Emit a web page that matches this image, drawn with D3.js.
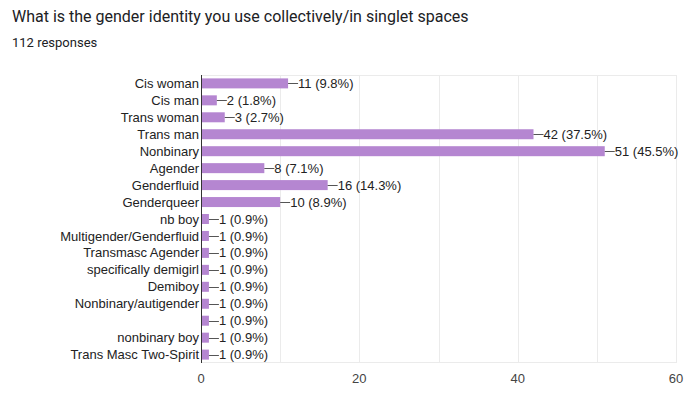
<!DOCTYPE html>
<html>
<head>
<meta charset="utf-8">
<script src="https://cdn.jsdelivr.net/npm/d3@7"></script>
<style>
  html, body { margin: 0; padding: 0; background: #fff; }
  svg { display: block; }
</style>
</head>
<body>
<svg id="chart" width="698" height="399"></svg>
<script>
const categories = [
  "Cis woman", "Cis man", "Trans woman", "Trans man", "Nonbinary", "Agender",
  "Genderfluid", "Genderqueer", "nb boy", "Multigender/Genderfluid",
  "Transmasc Agender", "specifically demigirl", "Demiboy",
  "Nonbinary/autigender", "", "nonbinary boy", "Trans Masc Two-Spirit"
];
const counts = [11, 2, 3, 42, 51, 8, 16, 10, 1, 1, 1, 1, 1, 1, 1, 1, 1];
const percents = ["9.8%", "1.8%", "2.7%", "37.5%", "45.5%", "7.1%", "14.3%", "8.9%",
  "0.9%", "0.9%", "0.9%", "0.9%", "0.9%", "0.9%", "0.9%", "0.9%", "0.9%"];
const xTicks = [0, 20, 40, 60];
const gridTicks = [10, 20, 30, 40, 50, 60];
const title = "What is the gender identity you use collectively/in singlet spaces";
const subtitle = "112 responses";

(function () {
const svg = d3.select("#chart");
const pLeft = 201, pRight = 676, pTop = 75, pBottom = 363;

svg.append("text").attr("x", 12).attr("y", 22)
  .attr("font-family", "Roboto, 'Open Sans', sans-serif").attr("font-size", 16)
  .attr("fill", "#202124").text(title);
svg.append("text").attr("x", 12).attr("y", 47)
  .attr("font-family", "Roboto, sans-serif").attr("font-size", 13)
  .attr("fill", "#202124").text(subtitle);

const x = d3.scaleLinear().domain([0, 60]).range([pLeft, pRight]);
const y = d3.scaleBand().domain(d3.range(categories.length)).range([pTop, pBottom])
  .paddingInner(0.41).paddingOuter(0.2);

// gridlines
svg.append("g").selectAll("line").data(gridTicks).join("line")
  .attr("x1", d => Math.round(x(d)) + 0.5).attr("x2", d => Math.round(x(d)) + 0.5)
  .attr("y1", pTop).attr("y2", pBottom)
  .attr("stroke", "#ebebeb").attr("stroke-width", 1);
svg.append("line").attr("x1", pLeft).attr("x2", pRight).attr("y1", pTop + 0.5).attr("y2", pTop + 0.5)
  .attr("stroke", "#ebebeb");
svg.append("line").attr("x1", pLeft).attr("x2", pRight).attr("y1", pBottom - 0.5).attr("y2", pBottom - 0.5)
  .attr("stroke", "#ebebeb");

const font = "'Liberation Sans', Arial, sans-serif";

// bars
svg.append("g").selectAll("rect").data(counts).join("rect")
  .attr("x", x(0)).attr("y", (d, i) => y(i))
  .attr("width", d => x(d) - x(0)).attr("height", y.bandwidth())
  .attr("fill", "#b586d1");

// leader lines + labels
const lab = svg.append("g");
counts.forEach((d, i) => {
  const cy = y(i) + y.bandwidth() / 2;
  lab.append("line").attr("x1", x(d)).attr("x2", x(d) + 10)
    .attr("y1", Math.round(cy) + 0.5).attr("y2", Math.round(cy) + 0.5)
    .attr("stroke", "#555").attr("stroke-width", 1);
  lab.append("text").attr("x", x(d) + 10).attr("y", cy).attr("dy", "0.35em")
    .attr("font-family", font).attr("font-size", 13).attr("fill", "#222")
    .text(`${d} (${percents[i]})`);
});

// y labels
svg.append("g").selectAll("text").data(categories).join("text")
  .attr("x", pLeft - 2).attr("y", (d, i) => y(i) + y.bandwidth() / 2).attr("dy", "0.35em")
  .attr("text-anchor", "end").attr("font-family", font).attr("font-size", 13)
  .attr("fill", "#222").text(d => d);

// axis line
svg.append("line").attr("x1", pLeft + 0.5).attr("x2", pLeft + 0.5).attr("y1", pTop).attr("y2", pBottom)
  .attr("stroke", "#333").attr("stroke-width", 1);

// x tick labels
svg.append("g").selectAll("text").data(xTicks).join("text")
  .attr("x", d => x(d)).attr("y", 383).attr("text-anchor", "middle")
  .attr("font-family", font).attr("font-size", 13).attr("fill", "#444")
  .text(d => d);
})();
</script>
</body>
</html>
